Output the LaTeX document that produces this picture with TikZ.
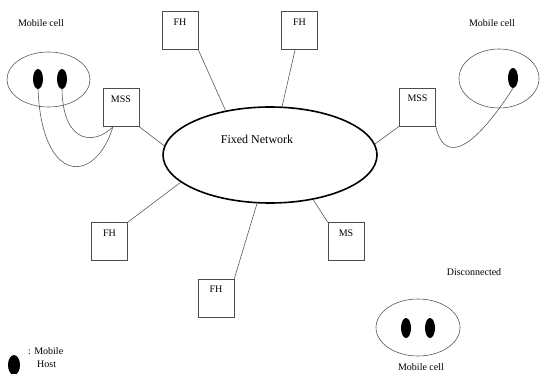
\documentclass[tikz,border=0pt]{standalone}
\usepackage{fontspec}
\setmainfont{Liberation Serif}
\usetikzlibrary{shapes.geometric}

\begin{document}
\begin{tikzpicture}[x=1pt, y=-1pt, font=\fontsize{10}{12}\selectfont,
    box/.style = {draw=black!70, line width=0.6pt, minimum width=36pt, minimum height=38pt, inner sep=0pt},
    cell/.style = {draw=black!65, line width=0.6pt, ellipse, inner sep=0pt},
    host/.style = {fill=black, ellipse, minimum width=10pt, minimum height=20pt, inner sep=0pt},
    net/.style = {draw, ellipse, line width=1.6pt, minimum width=214pt, minimum height=96pt, inner sep=0pt},
    link/.style = {draw=black!65, line width=0.6pt}]
        \useasboundingbox (0,0) rectangle (540,374);

        % fixed network
        \node[net] (net) at (270,155) {};
        \node (netname) at ([xshift=-13pt,yshift=16pt]net.center) {\fontsize{12}{14}\selectfont Fixed Network};

        % boxes
        \node[box, label={[anchor=north,yshift=-4pt]north:FH}] (fh1) at (180,30.5) {};
        \node[box, label={[anchor=north,yshift=-4pt]north:FH}] (fh2) at (299.5,30.5) {};
        \node[box, label={[anchor=north,yshift=-4pt]north:MSS}] (mss1) at (121,107.5) {};
        \node[box, label={[anchor=north,yshift=-4pt]north:MSS}] (mss2) at (417.5,107) {};
        \node[box, label={[anchor=north,yshift=-4pt]north:FH}] (fh3) at (109.5,241.5) {};
        \node[box, label={[anchor=north,yshift=-4pt]north:FH}] (fh4) at (216,298) {};
        \node[box, label={[anchor=north,yshift=-4pt]north:MS}] (ms) at (346,241.5) {};

        \draw[link] (fh1.south east) -- (net.135);
        \draw[link] (fh2) -- (net.76);
        \draw[link] (mss1.south east) -- (net.175);
        \draw[link] (mss2.south west) -- (net.6);
        \draw[link] (fh3.north east) -- (net.197);
        \draw[link] (fh4.north east) -- (net.255);
        \draw[link] (ms.north west) -- (net.314);

        % mobile cells
        \node[cell, minimum width=83pt, minimum height=55pt] (cell1) at (48.5,79.5) {};
        \node[host] (h1) at (38,79) {};
        \node[host] (h2) at (62,79) {};
        \node (cellname1) at (41,23) {Mobile cell};

        \node[cell, minimum width=80pt, minimum height=59pt] (cell2) at (499,78.5) {};
        \node[host] (h3) at (513,78) {};
        \node (cellname2) at (492,23) {Mobile cell};

        \node[cell, minimum width=84pt, minimum height=57pt] (cell3) at (418,327.5) {};
        \node[host] (h4) at (406,328) {};
        \node[host] (h5) at (430,328) {};
        \node (cellname3) at (421,367) {Mobile cell};
        \node (disc) at (474,272) {Disconnected};

        % wireless links
        \draw[link] (h1.south) .. controls (42,185) and (95,185) .. ([xshift=-8pt]mss1.south);
        \draw[link] (h2.south) .. controls (63,145) and (95,145) .. ([xshift=-8pt]mss1.south);
        \draw[link] (mss2.south east) .. controls (443,160) and (468,158) .. (h3.south);

        % legend
        \node[host, minimum width=12pt] (hk) at (14,365) {};
        \node[anchor=west, inner sep=0pt] (key1) at (28,351) {: Mobile};
        \node[anchor=west, inner sep=0pt] (key2) at (37,364) {Host};

    \end{tikzpicture}
\end{document}
